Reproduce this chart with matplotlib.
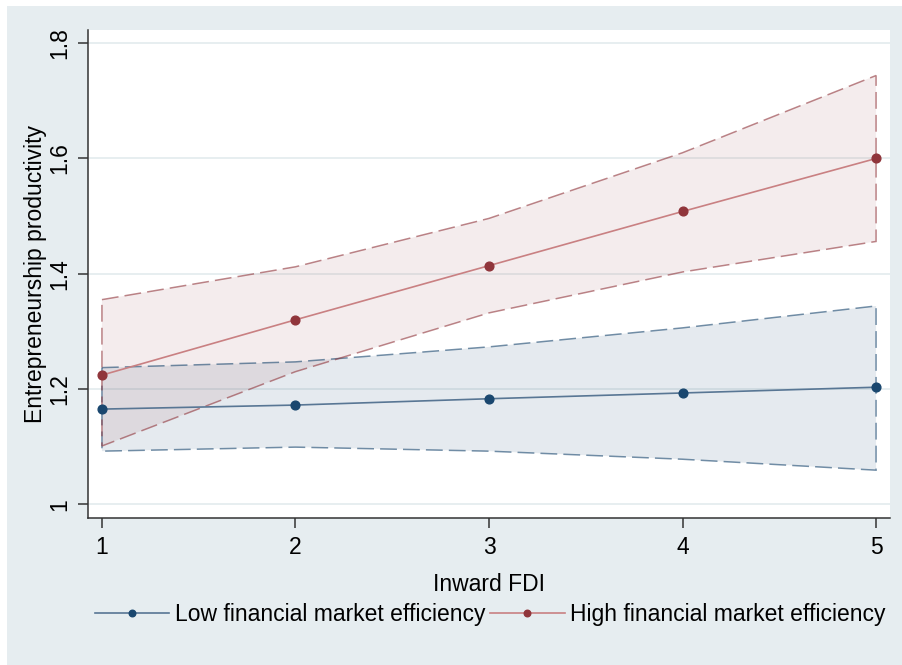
import numpy as np
import matplotlib.pyplot as plt
from matplotlib.patches import Rectangle

plt.rcParams['font.family'] = ['Liberation Sans', 'DejaVu Sans']

fdi = [1, 2, 3, 4, 5]

low_fit = [1.165, 1.172, 1.183, 1.193, 1.203]
low_upper = [1.237, 1.247, 1.273, 1.306, 1.344]
low_lower = [1.092, 1.099, 1.092, 1.078, 1.059]

high_fit = [1.224, 1.320, 1.414, 1.508, 1.600]
high_upper = [1.355, 1.412, 1.496, 1.610, 1.744]
high_lower = [1.101, 1.230, 1.332, 1.403, 1.456]

yticks = [1, 1.2, 1.4, 1.6, 1.8]
ytick_labels = ['1', '1.2', '1.4', '1.6', '1.8']

bg = '#e6edf0'
navy = '#1a476f'
maroon = '#90353b'
fs = 16.5

fig = plt.figure(figsize=(9.03, 6.65), dpi=100, facecolor='white')
fig.patches.append(Rectangle((7/903, 0), 1, 1 - 6/665, transform=fig.transFigure,
                             facecolor=bg, edgecolor='none', zorder=-1))

ax = fig.add_axes([88/903, 147/665, 802/903, 488/665])
ax.set_facecolor('white')

dash = (0, (11, 4))

def band(lo, hi, col, a):
    xs = fdi + fdi[::-1]
    ys = hi + lo[::-1]
    ax.fill(xs, ys, facecolor=col, alpha=a, edgecolor='none', zorder=2)
    ax.fill(xs, ys, facecolor='none', edgecolor=col, alpha=0.6,
            linewidth=1.1, linestyle=dash, zorder=3)

band(low_lower, low_upper, navy, 0.11)
band(high_lower, high_upper, maroon, 0.09)

ax.plot(fdi, low_fit, color='#587694', lw=1.2, marker='o', ms=6.3,
        mfc=navy, mec=navy, zorder=4, label='Low financial market efficiency')
ax.plot(fdi, high_fit, color='#c98082', lw=1.2, marker='o', ms=6.3,
        mfc=maroon, mec=maroon, zorder=4, label='High financial market efficiency')

ax.set_xlim(0.928, 5.072)
ax.set_ylim(0.976, 1.823)
ax.set_xticks(fdi)
ax.set_yticks(yticks)
ax.set_yticklabels(ytick_labels, rotation=90, va='center')
ax.grid(axis='y', color='#e3ebee', lw=1.2, zorder=1)
ax.set_axisbelow(True)

for s in ['top', 'right']:
    ax.spines[s].set_visible(False)
for s in ['left', 'bottom']:
    ax.spines[s].set_color('#333333')
    ax.spines[s].set_linewidth(1.1)
ax.tick_params(direction='out', length=7, width=1.1, color='#333333',
               labelsize=fs)
ax.tick_params(axis='x', pad=6)
ax.tick_params(axis='y', pad=5)

ax.set_xlabel('Inward FDI', fontsize=fs, labelpad=10)
ax.set_ylabel('Entrepreneurship productivity', fontsize=fs, labelpad=1)

leg = fig.legend(loc='center', bbox_to_anchor=(0.543, 1 - 615/665), ncol=2,
                 frameon=False, fontsize=fs, handlelength=3.25,
                 handletextpad=0.25, columnspacing=0.2, markerscale=0.75)

fig.savefig('out.png', dpi=100, facecolor=fig.get_facecolor())
